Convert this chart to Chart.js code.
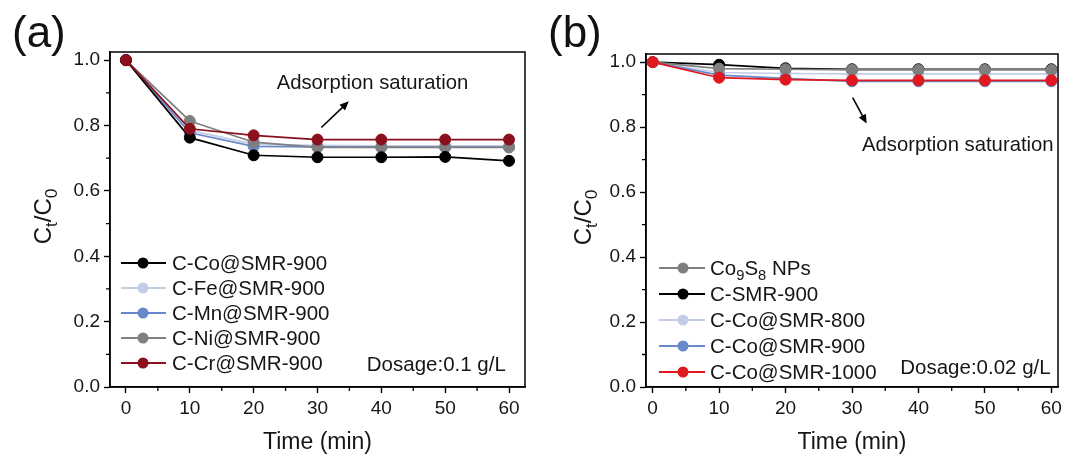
<!DOCTYPE html>
<html><head><meta charset="utf-8">
<script src="https://cdn.jsdelivr.net/npm/chart.js@4.4.1/dist/chart.umd.min.js"></script>
<style>
html,body{margin:0;padding:0;background:#fff;}
#wrap{position:relative;width:1067px;height:457px;overflow:hidden;}
.pane{position:absolute;top:0;height:457px;}
#pa{left:0;width:533px;}
#pb{left:533px;width:534px;}
canvas{display:block;}
</style></head><body>
<div id="wrap">
<div class="pane" id="pa"><canvas id="ca" width="533" height="457"></canvas></div>
<div class="pane" id="pb"><canvas id="cb" width="534" height="457"></canvas></div>
</div>
<script>
// ---- data ----
const times = [0, 10, 20, 30, 40, 50, 60];
const xTicks = [0, 10, 20, 30, 40, 50, 60];
const xMinor = [5, 15, 25, 35, 45, 55];
const yTicks = [0, 0.2, 0.4, 0.6, 0.8, 1.0];
const yMinor = [0.1, 0.3, 0.5, 0.7, 0.9];

const labelsA = ['C-Co@SMR-900', 'C-Fe@SMR-900', 'C-Mn@SMR-900', 'C-Ni@SMR-900', 'C-Cr@SMR-900'];
const coA = [1.0, 0.763, 0.709, 0.703, 0.703, 0.704, 0.692];
const feA = [1.0, 0.785, 0.743, 0.739, 0.738, 0.738, 0.738];
const mnA = [1.0, 0.778, 0.736, 0.735, 0.734, 0.734, 0.734];
const niA = [1.0, 0.814, 0.749, 0.733, 0.733, 0.733, 0.733];
const crA = [1.0, 0.790, 0.770, 0.757, 0.757, 0.757, 0.757];

const labelsB = ['Co₉S₈ NPs', 'C-SMR-900', 'C-Co@SMR-800', 'C-Co@SMR-900', 'C-Co@SMR-1000'];
const co9s8B = [1.0, 0.980, 0.978, 0.976, 0.976, 0.976, 0.976];
const smrB = [1.0, 0.992, 0.981, 0.978, 0.978, 0.978, 0.978];
const s800B = [1.0, 0.968, 0.965, 0.964, 0.964, 0.964, 0.964];
const s900B = [1.0, 0.960, 0.950, 0.941, 0.941, 0.941, 0.941];
const s1000B = [1.0, 0.952, 0.946, 0.944, 0.944, 0.944, 0.944];

const xTitle = 'Time (min)';
const yTitle = 'Cₜ/C₀';
const noteText = 'Adsorption saturation';
const dosageA = 'Dosage:0.1 g/L';
const dosageB = 'Dosage:0.02 g/L';

// ---- style ----
const FONT = '"Liberation Sans", Arial, Helvetica, sans-serif';
const TXT = '#161616';
const colorsA = ['#000000', '#c4cde6', '#6788c9', '#7f7f7f', '#8b0f1d'];
const colorsB = ['#7f7f7f', '#000000', '#c4cde6', '#6788c9', '#e0181f'];

function richText(ctx, text, x, y, size, align) {
  const runs = [];
  for (const ch of text) {
    const code = ch.codePointAt(0);
    let sub = false, c = ch;
    if (code >= 0x2080 && code <= 0x2089) { sub = true; c = String.fromCharCode(48 + code - 0x2080); }
    else if (code === 0x209C) { sub = true; c = 't'; }
    if (runs.length && runs[runs.length - 1].sub === sub) runs[runs.length - 1].t += c;
    else runs.push({ t: c, sub });
  }
  const subSize = size * 0.72;
  let total = 0;
  runs.forEach(r => { ctx.font = `${r.sub ? subSize : size}px ${FONT}`; r.w = ctx.measureText(r.t).width; total += r.w; });
  let cx = align === 'right' ? x - total : align === 'center' ? x - total / 2 : x;
  ctx.textAlign = 'left';
  ctx.textBaseline = 'alphabetic';
  runs.forEach(r => {
    ctx.font = `${r.sub ? subSize : size}px ${FONT}`;
    ctx.fillText(r.t, cx, r.sub ? y + size * 0.24 : y);
    cx += r.w;
  });
}

function decorPlugin(cfg) {
  return {
    id: 'decor' + cfg.name,
    afterDraw(chart) {
      const ctx = chart.ctx, ca = chart.chartArea;
      const xs = chart.scales.x, ys = chart.scales.y;
      ctx.save();
      // frame
      ctx.strokeStyle = '#000';
      ctx.lineWidth = 1.5;
      ctx.strokeRect(ca.left, ca.top, ca.right - ca.left, ca.bottom - ca.top);
      // minor ticks
      ctx.lineWidth = 1.3;
      ctx.beginPath();
      xMinor.forEach(v => { const p = xs.getPixelForValue(v); ctx.moveTo(p, ca.bottom); ctx.lineTo(p, ca.bottom + 4); });
      yMinor.forEach(v => { const p = ys.getPixelForValue(v); ctx.moveTo(ca.left, p); ctx.lineTo(ca.left - 4, p); });
      ctx.stroke();
      // legend
      const L = cfg.legend;
      cfg.labels.forEach((lab, i) => {
        const y = L.y0 + i * L.dy;
        ctx.strokeStyle = cfg.colors[i];
        ctx.lineWidth = 1.8;
        ctx.beginPath(); ctx.moveTo(L.x1, y); ctx.lineTo(L.x2, y); ctx.stroke();
        ctx.fillStyle = cfg.colors[i];
        ctx.beginPath(); ctx.arc(L.xm, y, 5.5, 0, Math.PI * 2); ctx.fill();
        ctx.fillStyle = TXT;
        richText(ctx, lab, L.xt, y + 7, 20.5, 'left');
      });
      // dosage
      ctx.fillStyle = TXT;
      richText(ctx, cfg.dosage, xs.getPixelForValue(cfg.dosagePos[0]), ys.getPixelForValue(cfg.dosagePos[1]) + 7, 20.5, 'right');
      // annotation text
      richText(ctx, noteText, xs.getPixelForValue(cfg.notePos[0]), ys.getPixelForValue(cfg.notePos[1]) + 7, 20.3, 'left');
      // arrow
      const ax1 = xs.getPixelForValue(cfg.arrow[0]), ay1 = ys.getPixelForValue(cfg.arrow[1]);
      const ax2 = xs.getPixelForValue(cfg.arrow[2]), ay2 = ys.getPixelForValue(cfg.arrow[3]);
      const ang = Math.atan2(ay2 - ay1, ax2 - ax1);
      const hl = 9, hw = 4;
      ctx.strokeStyle = '#000'; ctx.fillStyle = '#000'; ctx.lineWidth = 1.6;
      ctx.beginPath(); ctx.moveTo(ax1, ay1);
      ctx.lineTo(ax2 - Math.cos(ang) * hl * 0.8, ay2 - Math.sin(ang) * hl * 0.8); ctx.stroke();
      ctx.beginPath();
      ctx.moveTo(ax2, ay2);
      ctx.lineTo(ax2 - Math.cos(ang) * hl - Math.sin(ang) * hw, ay2 - Math.sin(ang) * hl + Math.cos(ang) * hw);
      ctx.lineTo(ax2 - Math.cos(ang) * hl + Math.sin(ang) * hw, ay2 - Math.sin(ang) * hl - Math.cos(ang) * hw);
      ctx.closePath(); ctx.fill();
      // y title (rotated, with subscripts)
      ctx.fillStyle = TXT;
      ctx.translate(cfg.yTitleX, (ca.top + ca.bottom) / 2 - 3);
      ctx.rotate(-Math.PI / 2);
      richText(ctx, yTitle, 0, 0, 24, 'center');
      ctx.setTransform(1, 0, 0, 1, 0, 0);
      // panel label
      ctx.fillStyle = '#111';
      ctx.font = `44px ${FONT}`;
      ctx.textAlign = 'left'; ctx.textBaseline = 'alphabetic';
      ctx.fillText(cfg.panel, cfg.panelX, 47);
      ctx.restore();
    }
  };
}

function makeChart(canvas, cfg) {
  return new Chart(canvas, {
    type: 'line',
    data: {
      datasets: cfg.series.map((d, i) => ({
        label: cfg.labels[i],
        data: times.map((t, j) => ({ x: t, y: d[j] })),
        borderColor: cfg.colors[i],
        backgroundColor: cfg.colors[i],
        pointBackgroundColor: cfg.colors[i],
        pointBorderColor: cfg.colors[i],
        borderWidth: 1.7,
        pointRadius: 5.5,
        pointBorderWidth: 1,
        tension: 0,
        fill: false,
        order: cfg.order[i]
      }))
    },
    options: {
      responsive: false,
      animation: false,
      events: [],
      clip: false,
      layout: { padding: { top: cfg.padTop, right: cfg.padRight, left: 0, bottom: 0 } },
      plugins: { legend: { display: false }, tooltip: { enabled: false } },
      scales: {
        x: {
          type: 'linear', min: cfg.xmin, max: cfg.xmax,
          afterBuildTicks: s => { s.ticks = xTicks.map(v => ({ value: v })); },
          afterFit: s => { s.height = 70; },
          grid: { drawOnChartArea: false, drawTicks: true, tickLength: 6, tickColor: '#000', tickWidth: 1.4 },
          border: { display: true, color: '#000', width: 1.5 },
          ticks: { font: { size: 19, family: FONT }, color: TXT, padding: 4, maxRotation: 0, autoSkip: false, callback: v => String(v) },
          title: { display: true, text: xTitle, font: { size: 23, family: FONT }, color: TXT, padding: { top: 0, bottom: 1 } }
        },
        y: {
          type: 'linear', min: 0, max: 1.025,
          afterBuildTicks: s => { s.ticks = yTicks.map(v => ({ value: v })); },
          afterFit: s => { s.width = cfg.yWidth; },
          grid: { drawOnChartArea: false, drawTicks: true, tickLength: 6, tickColor: '#000', tickWidth: 1.4 },
          border: { display: true, color: '#000', width: 1.5 },
          ticks: { font: { size: 19, family: FONT }, color: TXT, padding: 4, autoSkip: false, callback: v => Number(v).toFixed(1) }
        }
      }
    },
    plugins: [decorPlugin(cfg)]
  });
}

makeChart(document.getElementById('ca'), {
  name: 'A', panel: '(a)', panelX: 12,
  series: [coA, feA, mnA, niA, crA], labels: labelsA, colors: colorsA,
  order: [1, 4, 3, 2, 0],
  xmin: -2.5, xmax: 62.5, padTop: 52, padRight: 8, yWidth: 110, yTitleX: 51,
  legend: { x1: 121, x2: 166, xm: 143, xt: 172, y0: 263, dy: 25 },
  dosage: dosageA, dosagePos: [59.5, 0.071],
  notePos: [23.6, 0.933], arrow: [30.6, 0.794, 34.9, 0.874]
});

makeChart(document.getElementById('cb'), {
  name: 'B', panel: '(b)', panelX: 15,
  series: [co9s8B, smrB, s800B, s900B, s1000B], labels: labelsB, colors: colorsB,
  order: [1, 2, 4, 3, 0],
  xmin: -1, xmax: 61, padTop: 54, padRight: 9, yWidth: 113, yTitleX: 58,
  legend: { x1: 126, x2: 172, xm: 150, xt: 177, y0: 268, dy: 26 },
  dosage: dosageB, dosagePos: [59.9, 0.061],
  notePos: [31.5, 0.747], arrow: [30.1, 0.891, 32.2, 0.811]
});
</script>
</body></html>
